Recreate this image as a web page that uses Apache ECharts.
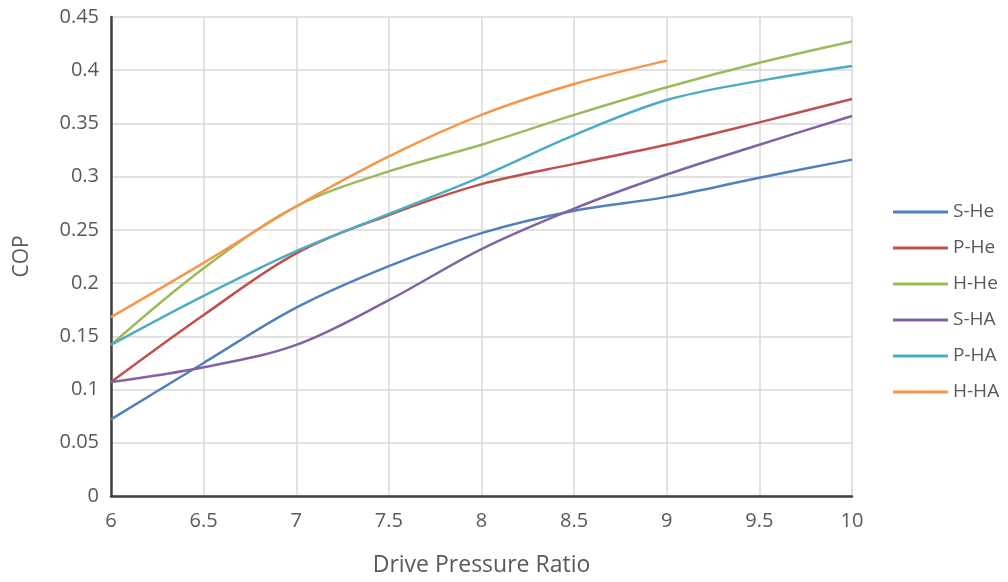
<!DOCTYPE html>
<html>
<head>
    <meta charset="utf-8" />
    <title>COP vs Drive Pressure Ratio</title>
    <script type="text/javascript" src="https://cdn.jsdelivr.net/npm/echarts@6/dist/echarts.min.js"></script>
    <style>
        html, body { margin: 0; padding: 0; background: #fff; }
        #con1 { width: 1008px; height: 582px; }
    </style>
</head>
<body>
    <div id="con1"></div>
    <script type="text/javascript">
        // drive pressure ratio (x)
        var ratio = [6, 6.5, 7, 7.5, 8, 8.5, 9, 9.5, 10];
        var seriesNames = ['S-He', 'P-He', 'H-He', 'S-HA', 'P-HA', 'H-HA'];
        // COP values
        var sHe = [0.072, 0.125, 0.177, 0.216, 0.247, 0.268, 0.281, 0.299, 0.316];
        var pHe = [0.107, 0.170, 0.228, 0.264, 0.293, 0.312, 0.330, 0.351, 0.373];
        var hHe = [0.142, 0.214, 0.272, 0.305, 0.330, 0.358, 0.384, 0.407, 0.427];
        var sHA = [0.107, 0.121, 0.142, 0.184, 0.232, 0.270, 0.302, 0.330, 0.357];
        var pHA = [0.142, 0.188, 0.230, 0.265, 0.300, 0.339, 0.372, 0.390, 0.404];
        var hHA = [0.168, 0.219, 0.272, 0.319, 0.358, 0.387, 0.409];
        var colors = ['#4f81bd', '#c0504d', '#9bbb59', '#8064a2', '#4bacc6', '#f79646'];

        function pairs(ys) {
            var out = [];
            for (var i = 0; i < ys.length; i++) {
                out.push([ratio[i], ys[i]]);
            }
            return out;
        }

        var allData = [sHe, pHe, hHe, sHA, pHA, hHA];
        var series = [];
        for (var k = 0; k < seriesNames.length; k++) {
            series.push({
                name: seriesNames[k],
                type: 'line',
                smooth: 0.35,
                showSymbol: false,
                symbol: 'none',
                lineStyle: { width: 2.5, color: colors[k] },
                itemStyle: { color: colors[k] },
                data: pairs(allData[k])
            });
        }

        var myChart1 = echarts.init(document.getElementById('con1'));
        var option1 = {
            animation: false,
            backgroundColor: '#ffffff',
            textStyle: { fontFamily: 'Open Sans' },
            grid: {
                left: 111,
                right: 156,
                top: 17,
                bottom: 85
            },
            legend: {
                orient: 'vertical',
                left: 888,
                top: 194,
                icon: 'rect',
                itemWidth: 55,
                itemHeight: 3,
                itemGap: 10,
                textStyle: { color: '#595959', fontSize: 19, lineHeight: 26 },
                data: seriesNames
            },
            xAxis: {
                type: 'value',
                min: 6,
                max: 10,
                interval: 0.5,
                name: 'Drive Pressure Ratio',
                nameLocation: 'middle',
                nameGap: 58,
                nameTextStyle: { color: '#595959', fontSize: 23 },
                axisLine: { show: true, lineStyle: { color: '#404040', width: 2.5 } },
                axisTick: { show: false },
                axisLabel: { color: '#595959', fontSize: 20, margin: 15 },
                splitLine: { show: true, lineStyle: { color: '#d9d9d9', width: 1.5 } }
            },
            yAxis: {
                type: 'value',
                min: 0,
                max: 0.45,
                interval: 0.05,
                name: 'COP',
                nameLocation: 'middle',
                nameGap: 78,
                nameTextStyle: { color: '#595959', fontSize: 21 },
                axisLine: { show: true, lineStyle: { color: '#404040', width: 2.5 } },
                axisTick: { show: false },
                axisLabel: { color: '#595959', fontSize: 20, margin: 12 },
                splitLine: { show: true, lineStyle: { color: '#d9d9d9', width: 1.5 } }
            },
            series: series
        };
        option1 && myChart1.setOption(option1);
    </script>
</body>
</html>
